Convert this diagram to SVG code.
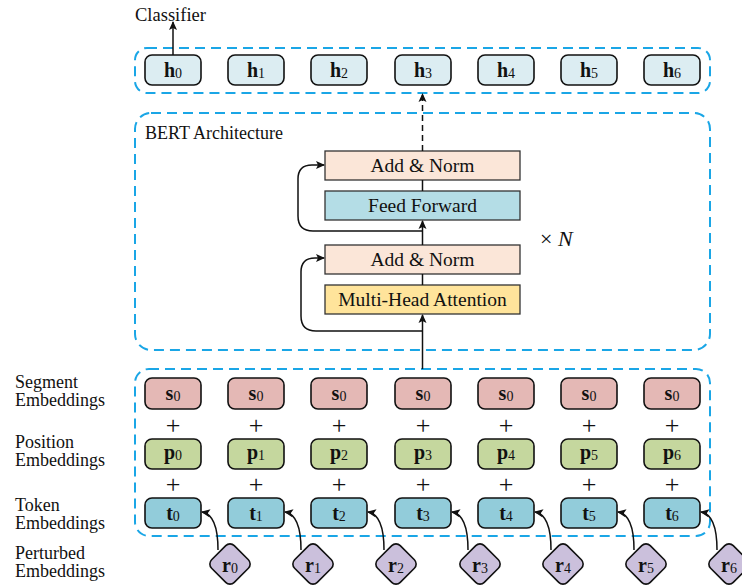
<svg xmlns="http://www.w3.org/2000/svg" width="742" height="586" viewBox="0 0 742 586">
<style>
.t{font-family:"Liberation Serif","Times New Roman",serif;fill:#111}
.lbl{font-size:18px}
.v{font-size:20px;font-weight:bold;text-anchor:middle}
.sub{font-size:14px;font-weight:normal}
.blk{font-size:19.5px;text-anchor:middle}
.pl{font-size:26px;text-anchor:middle}
.dash{fill:none;stroke:#1aa6e6;stroke-width:2;stroke-dasharray:10 6}
.node{stroke:#111;stroke-width:1.6}
.blkr{stroke:#333;stroke-width:1.3}
.ln{fill:none;stroke:#111;stroke-width:1.5}
.h{fill:#dcedf2}.s{fill:#e4b8b5}.p{fill:#c5d79e}.tk{fill:#92ccda}.r{fill:#cbc0dc}
</style>
<defs>
<marker id="ah" markerWidth="10" markerHeight="10" refX="8" refY="5" orient="auto" markerUnits="userSpaceOnUse">
<path d="M0,1 L9,5 L0,9 L2,5 Z" fill="#111"/>
</marker>
</defs>

<g id="containers">
<rect class="dash" x="135" y="48" width="575" height="45" rx="12"/>
<rect class="dash" x="135" y="113" width="575" height="237" rx="16"/>
<rect class="dash" x="135" y="369" width="575" height="167" rx="14"/>
</g>

<g id="labels">
<text class="t" font-size="18.5" x="135" y="21">Classifier</text>
<text class="t" font-size="18" x="145" y="139">BERT Architecture</text>
<text class="t" x="540" y="246" font-size="22">× <tspan font-style="italic">N</tspan></text>
<text class="t lbl" x="15" y="388">Segment</text>
<text class="t lbl" x="15" y="406">Embeddings</text>
<text class="t lbl" x="15" y="448">Position</text>
<text class="t lbl" x="15" y="466">Embeddings</text>
<text class="t lbl" x="15" y="511">Token</text>
<text class="t lbl" x="15" y="529">Embeddings</text>
<text class="t lbl" x="15" y="559">Perturbed</text>
<text class="t lbl" x="15" y="577">Embeddings</text>
</g>

<g id="h-row">
<g id="h0"><rect class="node h" x="145" y="55" width="56" height="30" rx="7"/><text class="t v" x="173" y="77">h<tspan class="sub" dy="1">0</tspan></text></g>
<g id="h1"><rect class="node h" x="228" y="55" width="56" height="30" rx="7"/><text class="t v" x="256" y="77">h<tspan class="sub" dy="1">1</tspan></text></g>
<g id="h2"><rect class="node h" x="311" y="55" width="56" height="30" rx="7"/><text class="t v" x="339" y="77">h<tspan class="sub" dy="1">2</tspan></text></g>
<g id="h3"><rect class="node h" x="395" y="55" width="56" height="30" rx="7"/><text class="t v" x="423" y="77">h<tspan class="sub" dy="1">3</tspan></text></g>
<g id="h4"><rect class="node h" x="478" y="55" width="56" height="30" rx="7"/><text class="t v" x="506" y="77">h<tspan class="sub" dy="1">4</tspan></text></g>
<g id="h5"><rect class="node h" x="561" y="55" width="56" height="30" rx="7"/><text class="t v" x="589" y="77">h<tspan class="sub" dy="1">5</tspan></text></g>
<g id="h6"><rect class="node h" x="644" y="55" width="56" height="30" rx="7"/><text class="t v" x="672" y="77">h<tspan class="sub" dy="1">6</tspan></text></g>
</g>

<g id="blocks">
<g id="addnorm2"><rect class="blkr" x="325" y="151" width="195" height="29" fill="#fbe6d8"/><text class="t blk" x="422.5" y="172">Add &amp; Norm</text></g>
<g id="ff"><rect class="blkr" x="325" y="191" width="195" height="29" fill="#b4dde6"/><text class="t blk" x="422.5" y="212">Feed Forward</text></g>
<g id="addnorm1"><rect class="blkr" x="325" y="245" width="195" height="29" fill="#fbe6d8"/><text class="t blk" x="422.5" y="266">Add &amp; Norm</text></g>
<g id="mha"><rect class="blkr" x="325" y="285" width="195" height="29" fill="#ffe49b"/><text class="t blk" x="422.5" y="306">Multi-Head Attention</text></g>
</g>

<g id="emb-row">
<g id="s0"><rect class="node s" x="145" y="378" width="56" height="31" rx="7"/><text class="t v" x="173" y="400">s<tspan class="sub" dy="1">0</tspan></text></g>
<g id="s1"><rect class="node s" x="228" y="378" width="56" height="31" rx="7"/><text class="t v" x="256" y="400">s<tspan class="sub" dy="1">0</tspan></text></g>
<g id="s2"><rect class="node s" x="311" y="378" width="56" height="31" rx="7"/><text class="t v" x="339" y="400">s<tspan class="sub" dy="1">0</tspan></text></g>
<g id="s3"><rect class="node s" x="395" y="378" width="56" height="31" rx="7"/><text class="t v" x="423" y="400">s<tspan class="sub" dy="1">0</tspan></text></g>
<g id="s4"><rect class="node s" x="478" y="378" width="56" height="31" rx="7"/><text class="t v" x="506" y="400">s<tspan class="sub" dy="1">0</tspan></text></g>
<g id="s5"><rect class="node s" x="561" y="378" width="56" height="31" rx="7"/><text class="t v" x="589" y="400">s<tspan class="sub" dy="1">0</tspan></text></g>
<g id="s6"><rect class="node s" x="644" y="378" width="56" height="31" rx="7"/><text class="t v" x="672" y="400">s<tspan class="sub" dy="1">0</tspan></text></g>

<g id="p0"><rect class="node p" x="145" y="439" width="56" height="30" rx="7"/><text class="t v" x="173" y="459">p<tspan class="sub" dy="1">0</tspan></text></g>
<g id="p1"><rect class="node p" x="228" y="439" width="56" height="30" rx="7"/><text class="t v" x="256" y="459">p<tspan class="sub" dy="1">1</tspan></text></g>
<g id="p2"><rect class="node p" x="311" y="439" width="56" height="30" rx="7"/><text class="t v" x="339" y="459">p<tspan class="sub" dy="1">2</tspan></text></g>
<g id="p3"><rect class="node p" x="395" y="439" width="56" height="30" rx="7"/><text class="t v" x="423" y="459">p<tspan class="sub" dy="1">3</tspan></text></g>
<g id="p4"><rect class="node p" x="478" y="439" width="56" height="30" rx="7"/><text class="t v" x="506" y="459">p<tspan class="sub" dy="1">4</tspan></text></g>
<g id="p5"><rect class="node p" x="561" y="439" width="56" height="30" rx="7"/><text class="t v" x="589" y="459">p<tspan class="sub" dy="1">5</tspan></text></g>
<g id="p6"><rect class="node p" x="644" y="439" width="56" height="30" rx="7"/><text class="t v" x="672" y="459">p<tspan class="sub" dy="1">6</tspan></text></g>

<g id="t0"><rect class="node tk" x="145" y="498" width="56" height="30" rx="7"/><text class="t v" x="173" y="520">t<tspan class="sub" dy="1">0</tspan></text></g>
<g id="t1"><rect class="node tk" x="228" y="498" width="56" height="30" rx="7"/><text class="t v" x="256" y="520">t<tspan class="sub" dy="1">1</tspan></text></g>
<g id="t2"><rect class="node tk" x="311" y="498" width="56" height="30" rx="7"/><text class="t v" x="339" y="520">t<tspan class="sub" dy="1">2</tspan></text></g>
<g id="t3"><rect class="node tk" x="395" y="498" width="56" height="30" rx="7"/><text class="t v" x="423" y="520">t<tspan class="sub" dy="1">3</tspan></text></g>
<g id="t4"><rect class="node tk" x="478" y="498" width="56" height="30" rx="7"/><text class="t v" x="506" y="520">t<tspan class="sub" dy="1">4</tspan></text></g>
<g id="t5"><rect class="node tk" x="561" y="498" width="56" height="30" rx="7"/><text class="t v" x="589" y="520">t<tspan class="sub" dy="1">5</tspan></text></g>
<g id="t6"><rect class="node tk" x="644" y="498" width="56" height="30" rx="7"/><text class="t v" x="672" y="520">t<tspan class="sub" dy="1">6</tspan></text></g>
</g>

<g id="plus">
<text class="t pl" x="173" y="434">+</text><text class="t pl" x="256" y="434">+</text><text class="t pl" x="339" y="434">+</text><text class="t pl" x="423" y="434">+</text><text class="t pl" x="506" y="434">+</text><text class="t pl" x="589" y="434">+</text><text class="t pl" x="672" y="434">+</text>
<text class="t pl" x="173" y="493">+</text><text class="t pl" x="256" y="493">+</text><text class="t pl" x="339" y="493">+</text><text class="t pl" x="423" y="493">+</text><text class="t pl" x="506" y="493">+</text><text class="t pl" x="589" y="493">+</text><text class="t pl" x="672" y="493">+</text>
</g>

<g id="r-row">
<g id="r0"><rect class="node r" x="214" y="548" width="32" height="32" rx="6" transform="rotate(45 230 564)"/><text class="t v" x="230" y="572">r<tspan class="sub" dy="1">0</tspan></text></g>
<g id="r1"><rect class="node r" x="297" y="548" width="32" height="32" rx="6" transform="rotate(45 313 564)"/><text class="t v" x="313" y="572">r<tspan class="sub" dy="1">1</tspan></text></g>
<g id="r2"><rect class="node r" x="380" y="548" width="32" height="32" rx="6" transform="rotate(45 396 564)"/><text class="t v" x="396" y="572">r<tspan class="sub" dy="1">2</tspan></text></g>
<g id="r3"><rect class="node r" x="464" y="548" width="32" height="32" rx="6" transform="rotate(45 480 564)"/><text class="t v" x="480" y="572">r<tspan class="sub" dy="1">3</tspan></text></g>
<g id="r4"><rect class="node r" x="547" y="548" width="32" height="32" rx="6" transform="rotate(45 563 564)"/><text class="t v" x="563" y="572">r<tspan class="sub" dy="1">4</tspan></text></g>
<g id="r5"><rect class="node r" x="630" y="548" width="32" height="32" rx="6" transform="rotate(45 646 564)"/><text class="t v" x="646" y="572">r<tspan class="sub" dy="1">5</tspan></text></g>
<g id="r6"><rect class="node r" x="713" y="548" width="32" height="32" rx="6" transform="rotate(45 729 564)"/><text class="t v" x="729" y="572">r<tspan class="sub" dy="1">6</tspan></text></g>
</g>

<g id="connectors">
<path class="ln" d="M173,55 V22" marker-end="url(#ah)"/>
<path class="ln" d="M422.5,151 V94" stroke-dasharray="6 4" marker-end="url(#ah)"/>
<path class="ln" d="M422.5,369 V315" marker-end="url(#ah)"/>
<path class="ln" d="M422.5,285 V274"/>
<path class="ln" d="M422.5,245 V221" marker-end="url(#ah)"/>
<path class="ln" d="M422.5,191 V180"/>
<path class="ln" d="M422.5,331 H316 Q301,331 301,316 V272 Q301,258 315,258 H324" marker-end="url(#ah)"/>
<path class="ln" d="M422.5,231 H313 Q298,231 298,216 V179 Q298,165 312,165 H324" marker-end="url(#ah)"/>
<path class="ln" d="M218,550 C218,530 214,514 202,512" marker-end="url(#ah)"/>
<path class="ln" d="M301,550 C301,530 297,514 285,512" marker-end="url(#ah)"/>
<path class="ln" d="M384,550 C384,530 380,514 368,512" marker-end="url(#ah)"/>
<path class="ln" d="M468,550 C468,530 464,514 452,512" marker-end="url(#ah)"/>
<path class="ln" d="M551,550 C551,530 547,514 535,512" marker-end="url(#ah)"/>
<path class="ln" d="M634,550 C634,530 630,514 618,512" marker-end="url(#ah)"/>
<path class="ln" d="M717,550 C717,530 713,514 701,512" marker-end="url(#ah)"/>
</g>
</svg>
